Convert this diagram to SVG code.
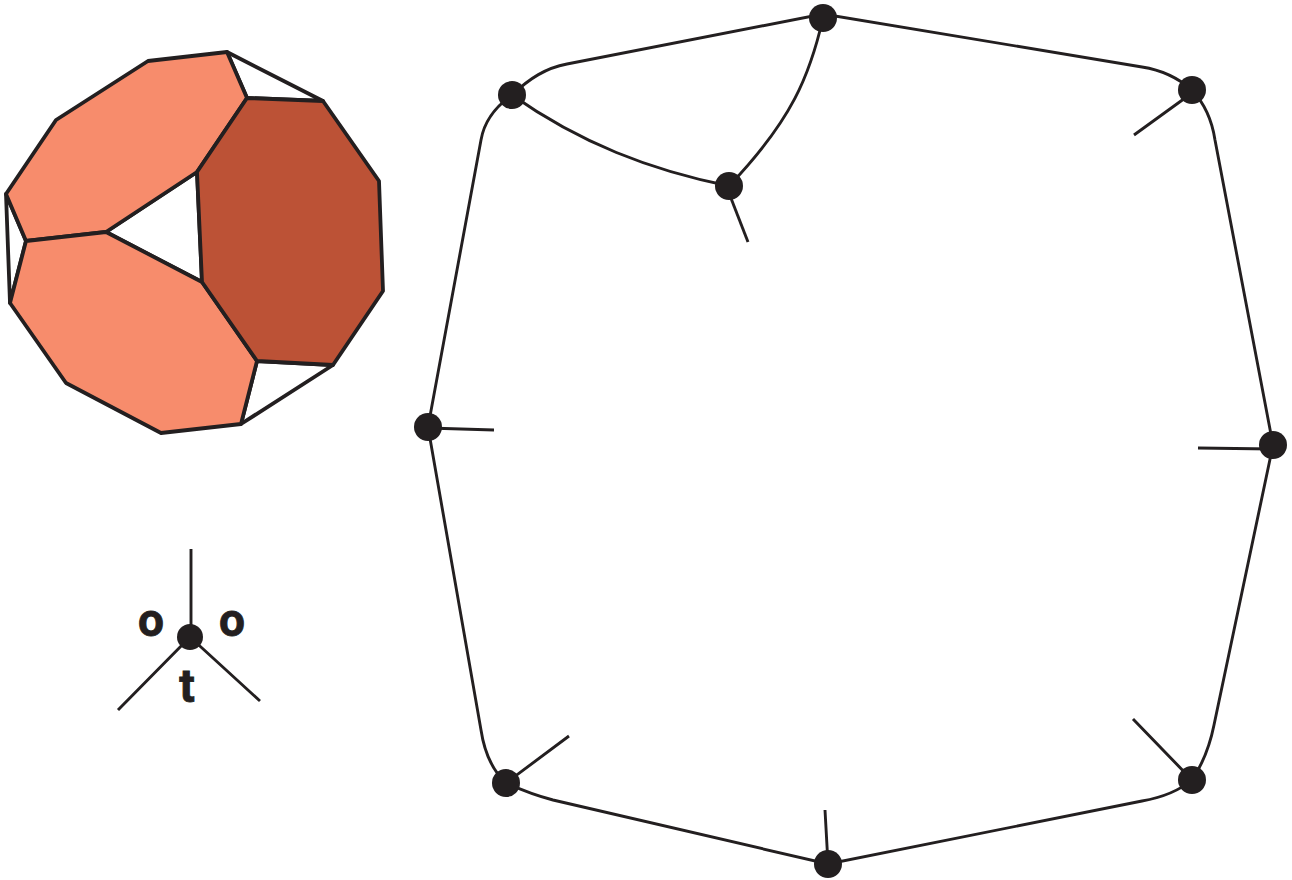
<svg xmlns="http://www.w3.org/2000/svg" width="1292" height="880" viewBox="0 0 1292 880">
<style>
.f{stroke:#231f20;stroke-width:3.8;stroke-linejoin:round}
.l{fill:#f78c6c}.d{fill:#bc5236}.w{fill:#fff}
.c{fill:none;stroke:#231f20;stroke-width:2.9}
.n{fill:#231f20}
text{font-family:Roboto,sans-serif;font-weight:700;font-size:46px;fill:#231f20;stroke:#231f20;stroke-width:.8}
</style>
<rect width="1292" height="880" fill="#fff"/>
<g id="polyhedron">
<polygon class="f w" points="227,52 323,101 247,98"/>
<polygon class="f w" points="6,194 26,241 10,303"/>
<polygon class="f w" points="106,232 197,172 202,282"/>
<polygon class="f w" points="257,361 333,365 241,424"/>
<polygon class="f l" points="148,61 227,52 247,98 197,172 106,232 26,241 6,194 56,120"/>
<polygon class="f l" points="26,241 106,232 202,282 257,361 241,424 161,433 66,383 10,303"/>
<polygon class="f d" points="247,98 323,101 379,181 383,291 333,365 257,361 202,282 197,172"/>
</g>
<g id="connectors">
<path class="c" d="M512,95C530,78 546,68 567,64L823,14L1142,67C1168,71 1184,83 1192,90C1204,103 1212,120 1215,140L1273,445L1214,725C1209,750 1200,768 1192,780C1180,790 1165,797 1142,801L828,864L553,800C530,794 515,787 506,783C492,770 484,750 481,730L428,427L481,140C484,122 495,107 512,95"/>
<path class="c" d="M512,95C580,143 650,170 729,186"/>
<path class="c" d="M823,18C810,75 792,120 729,186"/>
<path class="c" d="M727,188L748,242"/>
<path class="c" d="M1192,93L1134,135M428,428L494,430M1273,449L1198,448M506,783L569,736M1192,780L1133,719M828,864L825,810"/>
<path class="c" d="M191,549V637M190,637L118,710M190,637L260,701"/>
</g>
<g id="n1"><circle class="n" cx="823" cy="18" r="14"/></g>
<g id="n2"><circle class="n" cx="512" cy="95" r="14"/></g>
<g id="n3"><circle class="n" cx="1192" cy="90" r="14"/></g>
<g id="n4"><circle class="n" cx="729" cy="186" r="14"/></g>
<g id="n5"><circle class="n" cx="428" cy="427" r="14"/></g>
<g id="n6"><circle class="n" cx="1273" cy="445" r="14"/></g>
<g id="n7"><circle class="n" cx="506" cy="783" r="14"/></g>
<g id="n8"><circle class="n" cx="1192" cy="780" r="14"/></g>
<g id="n9"><circle class="n" cx="828" cy="864" r="14"/></g>
<g id="n10"><circle class="n" cx="190" cy="637" r="13"/></g>
<text x="151" y="636" text-anchor="middle">o</text>
<text x="232" y="636" text-anchor="middle">o</text>
<text x="187" y="702" text-anchor="middle">t</text>
</svg>
